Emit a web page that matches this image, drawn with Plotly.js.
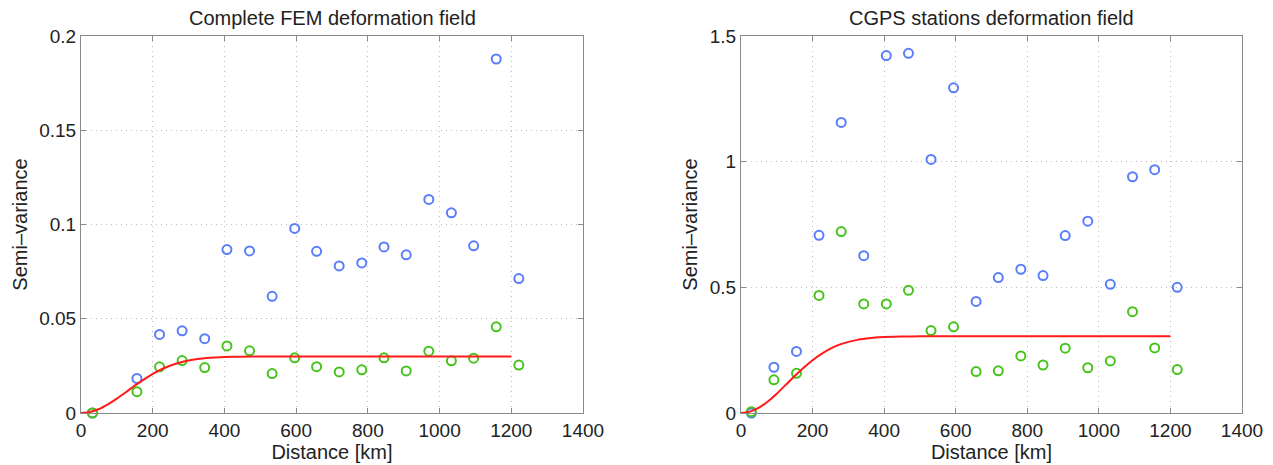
<!DOCTYPE html>
<html>
<head>
<meta charset="utf-8">
<script src="https://cdn.plot.ly/plotly-3.0.1.min.js"></script>
<style>html,body{margin:0;padding:0;background:#fff;}#chart{width:1273px;height:465px;}</style>
</head>
<body>
<div id="chart"></div>
<script>
// ---- Data ----
const femLagX = [32, 156, 219, 282, 345, 407, 470, 533, 596, 657, 720, 783, 845, 907, 970, 1033, 1095, 1158, 1221];
const femBlue = [0.0, 0.0183, 0.0417, 0.0436, 0.0394, 0.0867, 0.0860, 0.0619, 0.0979, 0.0858, 0.0780, 0.0796, 0.0881, 0.0839, 0.1133, 0.1062, 0.0887, 0.1878, 0.0713];
const femGreen = [0.0, 0.0113, 0.0245, 0.0278, 0.0241, 0.0356, 0.0330, 0.0209, 0.0293, 0.0246, 0.0218, 0.0229, 0.0293, 0.0223, 0.0328, 0.0277, 0.0291, 0.0457, 0.0254];

const gpsLagX = [29, 92, 155, 218, 280, 343, 406, 468, 531, 594, 657, 719, 782, 844, 906, 969, 1032, 1094, 1156, 1219];
const gpsBlue = [0.0, 0.182, 0.245, 0.707, 1.156, 0.626, 1.422, 1.431, 1.009, 1.294, 0.444, 0.539, 0.572, 0.547, 0.706, 0.763, 0.512, 0.940, 0.968, 0.500];
const gpsGreen = [0.005, 0.132, 0.158, 0.468, 0.722, 0.434, 0.434, 0.488, 0.328, 0.343, 0.165, 0.168, 0.227, 0.191, 0.258, 0.180, 0.207, 0.403, 0.259, 0.173];

const modelX = [0, 25, 50, 75, 100, 125, 150, 175, 200, 225, 250, 275, 300, 325, 350, 375, 400, 450, 500, 600, 1200];
const femModel = [0, 0.0005, 0.0021, 0.0046, 0.0076, 0.0110, 0.0145, 0.0177, 0.0207, 0.0232, 0.0252, 0.0267, 0.0278, 0.0286, 0.0292, 0.0295, 0.0297, 0.0299, 0.0300, 0.0300, 0.0300];
const gpsModel = [0, 0.0055, 0.021, 0.046, 0.077, 0.112, 0.147, 0.180, 0.210, 0.235, 0.256, 0.272, 0.283, 0.291, 0.296, 0.300, 0.302, 0.304, 0.305, 0.305, 0.305];

const titles = ["Complete FEM deformation field", "CGPS stations deformation field"];
const xTitle = "Distance [km]";
const yTitle = "Semi\u2013variance";

// ---- Styles ----
const BLUE = "#5a7dfb";
const GREEN = "#46c41c";
const RED = "#ff1a1a";
const FONT = "Liberation Sans, Arial, Helvetica, sans-serif";

function pts(x, y, color, xa, ya) {
  return {x: x, y: y, xaxis: xa, yaxis: ya, type: "scatter", mode: "markers",
    cliponaxis: false, showlegend: false,
    marker: {symbol: "circle-open", size: 9, color: color, line: {width: 2, color: color}}};
}
function line(x, y, xa, ya) {
  return {x: x, y: y, xaxis: xa, yaxis: ya, type: "scatter", mode: "lines",
    showlegend: false, line: {color: RED, width: 2, shape: "spline", smoothing: 0.6}};
}

const data = [
  pts(femLagX, femBlue, BLUE, "x", "y"),
  pts(femLagX, femGreen, GREEN, "x", "y"),
  line(modelX, femModel, "x", "y"),
  pts(gpsLagX, gpsBlue, BLUE, "x2", "y2"),
  pts(gpsLagX, gpsGreen, GREEN, "x2", "y2"),
  line(modelX, gpsModel, "x2", "y2")
];

const W = 1273, H = 465;
const yDom = [1 - 413 / H, 1 - 36 / H];
const GRID = {showgrid: true, gridcolor: "#bdbdbd", griddash: "1px,4px", gridwidth: 1};
function xAxis(dom, anchor) {
  return Object.assign({domain: dom, anchor: anchor, range: [0, 1400], dtick: 200, tick0: 0,
    showline: true, linecolor: "#8a8a8a", linewidth: 1, mirror: "ticks",
    ticks: "inside", ticklen: 5, tickcolor: "#8a8a8a",
    zeroline: false, tickfont: {family: FONT, size: 19, color: "#222"},
    title: {text: xTitle, font: {family: FONT, size: 20, color: "#222"}, standoff: 2}}, GRID);
}
function yAxis(range, dtick, anchor) {
  return Object.assign({domain: yDom, anchor: anchor, range: range, dtick: dtick, tick0: 0,
    showline: true, linecolor: "#8a8a8a", linewidth: 1, mirror: "ticks",
    ticks: "inside", ticklen: 5, tickcolor: "#8a8a8a",
    zeroline: false, tickfont: {family: FONT, size: 19, color: "#222"},
    title: {text: yTitle, font: {family: FONT, size: 20, color: "#222"}, standoff: 6}}, GRID);
}

const xd1 = [81 / W, 583 / W], xd2 = [741 / W, 1242 / W];
const layout = {
  width: W, height: H, margin: {l: 0, r: 0, t: 0, b: 0},
  paper_bgcolor: "#fff", plot_bgcolor: "#fff",
  font: {family: FONT, color: "#222"},
  xaxis: xAxis(xd1, "y"), yaxis: yAxis([0, 0.2], 0.05, "x"),
  xaxis2: xAxis(xd2, "y2"), yaxis2: yAxis([0, 1.5], 0.5, "x2"),
  annotations: [
    {text: titles[0], xref: "paper", yref: "paper", x: (xd1[0] + xd1[1]) / 2, y: 1 - 18 / H,
     xanchor: "center", yanchor: "middle", showarrow: false, font: {family: FONT, size: 20, color: "#222"}},
    {text: titles[1], xref: "paper", yref: "paper", x: (xd2[0] + xd2[1]) / 2, y: 1 - 18 / H,
     xanchor: "center", yanchor: "middle", showarrow: false, font: {family: FONT, size: 20, color: "#222"}}
  ]
};

Plotly.newPlot("chart", data, layout, {displayModeBar: false, staticPlot: true});
</script>
</body>
</html>
